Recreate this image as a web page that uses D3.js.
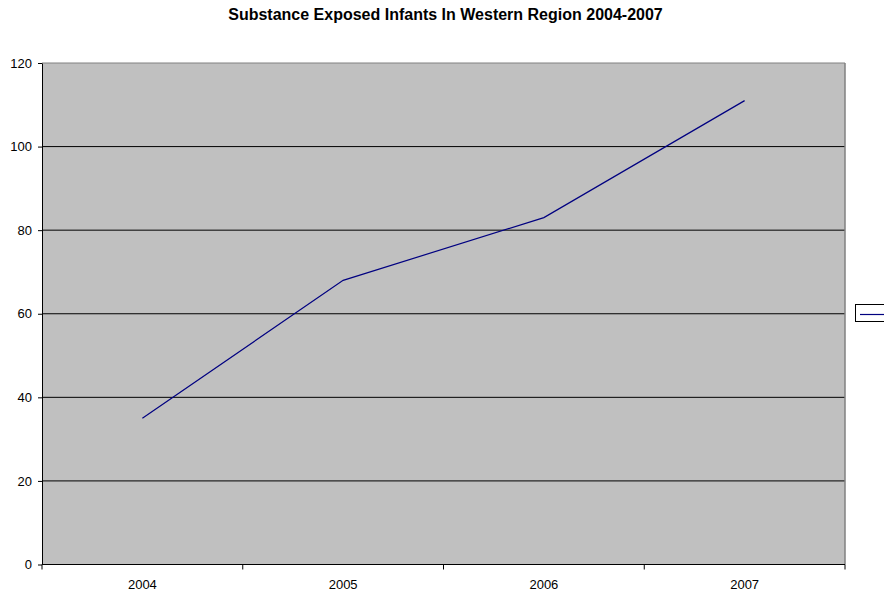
<!DOCTYPE html>
<html><head><meta charset="utf-8">
<script src="https://cdn.jsdelivr.net/npm/d3@7"></script>
<style>body{margin:0;background:#fff}svg{display:block}</style>
</head><body><svg id="c" width="884" height="592"></svg>
<script>
const title = "Substance Exposed Infants In Western Region 2004-2007";
const categories = ["2004","2005","2006","2007"];
const values = [35, 68, 83, 111];
const yTicks = [0,20,40,60,80,100,120];

const svg = d3.select("#c");
const L=42, R=845, T=63, B=564.5;
const x = d3.scaleBand().domain(categories).range([L,R]);
const y = d3.scaleLinear().domain([0,120]).range([B,T]);
const font = "Liberation Sans, Arial, sans-serif";

svg.append("text").attr("x",445.5).attr("y",20).attr("text-anchor","middle")
  .attr("font-family",font).attr("font-size",16).attr("font-weight","bold").text(title);

svg.append("rect").attr("x",L).attr("y",T).attr("width",R-L).attr("height",B-T)
  .attr("fill","#c0c0c0");
// gridlines
svg.append("g").selectAll("line").data(yTicks.filter(d=>d>0)).join("line")
  .attr("x1",L).attr("x2",R).attr("y1",d=>y(d)).attr("y2",d=>y(d))
  .attr("stroke",d=>d===120?"#808080":"#000").attr("stroke-width",1);
// right border
svg.append("line").attr("x1",R).attr("x2",R).attr("y1",T).attr("y2",B)
  .attr("stroke","#808080").attr("stroke-width",1.5);

// y axis
const ya = svg.append("g").attr("transform",`translate(${L},0)`)
  .call(d3.axisLeft(y).tickValues(yTicks).tickSize(4).tickSizeOuter(0).tickPadding(6));
ya.select(".domain").attr("stroke","#000");
ya.selectAll("text").attr("font-family",font).attr("font-size",13).attr("fill","#000");

// x axis
const xa = svg.append("g").attr("transform",`translate(0,${B})`)
  .call(d3.axisBottom(x).tickSize(0).tickPadding(15));
xa.select(".domain").remove();
xa.selectAll("text").attr("font-family",font).attr("font-size",13).attr("fill","#000");
svg.append("line").attr("x1",L).attr("x2",R).attr("y1",B).attr("y2",B).attr("stroke","#000");
const bounds = categories.map(c=>x(c)).concat([R]);
svg.append("g").selectAll("line").data(bounds).join("line")
  .attr("x1",d=>d).attr("x2",d=>d).attr("y1",B).attr("y2",B+5).attr("stroke","#000");

// series
const line = d3.line().x((d,i)=>x(categories[i])+x.bandwidth()/2).y(d=>y(d));
svg.append("path").datum(values).attr("d",line).attr("fill","none")
  .attr("stroke","#000080").attr("stroke-width",1.2);

// legend
svg.append("rect").attr("x",855.5).attr("y",304.5).attr("width",40).attr("height",17)
  .attr("fill","#fff").attr("stroke","#000").attr("stroke-width",1);
svg.append("line").attr("x1",860).attr("x2",884).attr("y1",314.5).attr("y2",314.5)
  .attr("stroke","#000080").attr("stroke-width",1.2);
</script></body></html>
